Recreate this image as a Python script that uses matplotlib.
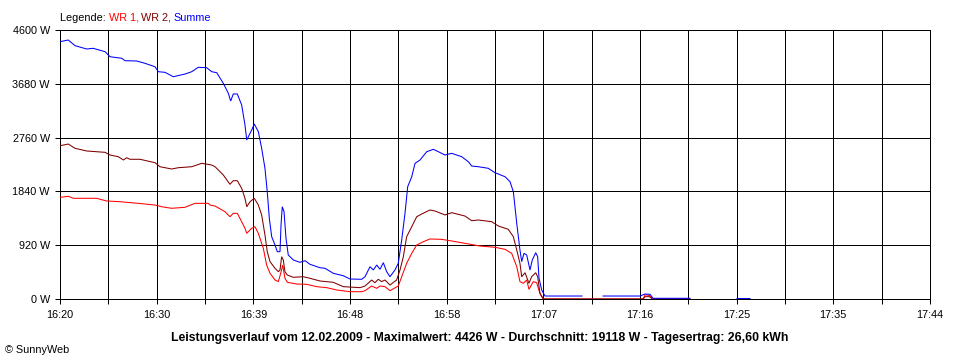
import numpy as np
import matplotlib
matplotlib.use("Agg")
import matplotlib.pyplot as plt

plt.rcParams['font.family'] = ["Liberation Sans", "DejaVu Sans"]

# ---- data: time in minutes after 16:20, power in W ----
t_sum = [0.0, 0.8, 1.45, 2.58, 3.2, 4.35, 4.83, 5.96, 6.28, 7.41, 8.21, 9.17, 9.49, 10.14,
         10.94, 12.07, 12.72, 13.35, 14.16, 14.65, 15.13, 15.77, 16.25, 16.48, 16.73, 17.12,
         17.54, 17.86, 18.03, 18.51, 18.76, 19.15, 19.47, 19.79, 20.01, 20.21, 20.44, 20.76,
         20.98, 21.24, 21.34, 21.46, 21.63, 21.82, 22.04, 22.53, 23.17, 23.66, 24.14, 25.10,
         25.59, 26.39, 27.35, 28.0, 29.13, 29.45, 29.93, 30.25, 30.58, 30.90, 31.22, 31.54,
         31.86, 32.34, 32.66, 32.99, 33.31, 33.57, 33.96, 34.28, 34.76, 35.41, 36.05, 36.53,
         37.17, 37.82, 38.79, 39.42, 39.75, 40.39, 41.35, 42.0, 42.97, 43.45, 43.77, 44.1,
         44.41, 44.58, 44.8, 45.06, 45.38, 45.6, 45.93, 46.12, 46.25, 46.51, 46.83, 47.63,
         50.4, 50.5, 52.33, 52.43, 56.0, 56.48, 56.97, 57.26, 60.83, 60.93, 65.27, 65.37, 66.62]
p_sum = [4400, 4429, 4332, 4275, 4287, 4229, 4143, 4116, 4075, 4070, 4030, 3972, 3887, 3876,
         3801, 3847, 3887, 3962, 3955, 3887, 3870, 3688, 3518, 3386, 3506, 3506,
         3318, 2976, 2719, 2890, 2993, 2861, 2577, 2235, 1835, 1380, 1065, 923,
         809, 809, 1265, 1578, 1493, 1038, 752, 667, 627, 655, 593, 535,
         525, 439, 398, 342, 337, 381, 552, 496, 581, 508, 621, 467,
         381, 496, 610, 1009, 1465, 1920, 2091, 2320, 2377, 2519, 2560, 2519,
         2462, 2491, 2433, 2348, 2274, 2262, 2235, 2160, 2091, 2006, 1835, 1294,
         838, 638, 781, 752, 496, 667, 792, 723, 354, 154, 51, 51,
         51, np.nan, np.nan, 51, 51, 85, 80, 12, 12, np.nan, np.nan, 8, 8]

t_wr2 = [0.0, 0.8, 1.45, 2.58, 4.35, 4.83, 5.63, 6.12, 6.44, 6.76, 7.73, 9.17, 9.65, 10.78,
         11.42, 12.72, 13.68, 14.65, 14.97, 15.77, 16.41, 16.73, 17.12, 17.54, 17.86, 18.03,
         18.35, 18.76, 19.15, 19.47, 19.79, 20.01, 20.28, 20.76, 21.08, 21.24, 21.4, 21.56,
         21.72, 21.95, 22.53, 23.49, 24.14, 25.1, 26.39, 27.35, 28.97, 29.45, 30.09, 30.41,
         30.73, 31.06, 31.38, 31.86, 32.5, 32.83, 33.15, 33.47, 33.96, 34.44, 34.92, 35.72,
         36.21, 37.17, 37.82, 39.1, 39.75, 40.39, 41.68, 42.32, 43.28, 43.77, 44.1, 44.41,
         44.58, 44.9, 45.28, 45.54, 45.93, 46.12, 46.34, 46.66, 56.3, 56.5, 56.9, 57.2, 60.8]
p_wr2 = [2621, 2650, 2577, 2531, 2508, 2462, 2433, 2377, 2416, 2389, 2389, 2331, 2262, 2223,
         2245, 2262, 2320, 2291, 2262, 2120, 1961, 2023, 2023, 1893, 1722, 1578,
         1664, 1722, 1607, 1437, 1094, 809, 638, 525, 467, 496, 723, 667,
         467, 410, 371, 381, 354, 308, 285, 211, 194, 222, 325, 279,
         337, 297, 325, 239, 325, 496, 723, 1065, 1236, 1407, 1453, 1522,
         1505, 1437, 1476, 1419, 1339, 1351, 1322, 1248, 1192, 1065, 838, 610,
         381, 450, 268, 381, 450, 381, 97, 0, 0, 40, 40, 0, 0]

t_wr1 = [0.0, 0.8, 1.29, 3.53, 4.49, 5.77, 7.53, 9.17, 9.81, 10.78, 12.07, 13.03, 14.32,
         14.48, 14.97, 15.93, 16.41, 16.73, 17.12, 17.54, 17.86, 18.03, 18.51, 18.83, 19.15,
         19.63, 19.95, 20.28, 20.76, 21.08, 21.31, 21.5, 21.72, 21.95, 22.85, 23.82, 24.78,
         25.75, 26.72, 28.0, 29.13, 29.45, 30.09, 30.58, 30.9, 31.38, 31.86, 32.66, 32.99,
         33.47, 33.96, 34.44, 35.08, 35.72, 36.85, 37.82, 39.1, 40.55, 42.0, 42.97, 43.61,
         44.1, 44.41, 44.74, 45.06, 45.28, 45.7, 46.02, 46.34, 46.66, 56.3, 56.5, 56.9, 57.3, 60.8]
p_wr1 = [1739, 1756, 1722, 1722, 1676, 1664, 1636, 1607, 1578, 1551, 1568, 1636, 1636,
         1607, 1590, 1493, 1407, 1465, 1465, 1322, 1209, 1123, 1209, 1236, 1123,
         867, 581, 439, 325, 297, 439, 581, 354, 285, 256, 251, 211,
         194, 154, 125, 125, 142, 222, 183, 222, 211, 142, 222, 381,
         610, 781, 923, 980, 1026, 1020, 992, 952, 906, 884, 849, 781,
         552, 297, 268, 325, 165, 297, 279, 97, 0, 0, 73, 60, 0, 0]

x_tick_labels = ["16:20", "16:30", "16:39", "16:48", "16:58", "17:07", "17:16", "17:25", "17:35", "17:44"]
y_ticks = [0, 920, 1840, 2760, 3680, 4600]
y_tick_labels = ["0 W", "920 W", "1840 W", "2760 W", "3680 W", "4600 W"]

series_names = ["WR 1", "WR 2", "Summe"]
series_colors = ["#FF0000", "#800000", "#0000FF"]

caption = ("Leistungsverlauf vom 12.02.2009 - Maximalwert: 4426 W - Durchschnitt: 19118 W"
           " - Tagesertrag: 26,60 kWh")

# ---- figure ----
W, H = 960, 360
fig = plt.figure(figsize=(W / 100, H / 100), dpi=100)
fig.patch.set_facecolor("white")
ax = fig.add_axes([60 / W, 61 / H, 870 / W, 269 / H])

PX = 0.72  # one pixel in points
for t, p, c in [(t_wr1, p_wr1, series_colors[0]), (t_wr2, p_wr2, series_colors[1]),
                (t_sum, p_sum, series_colors[2])]:
    ax.plot(t, p, color=c, lw=0.75, antialiased=True, solid_joinstyle="miter", zorder=3)

ax.set_xlim(0, 84)
ax.set_ylim(0, 4600)
major = np.linspace(0, 84, 10)
minor = (major[:-1] + major[1:]) / 2
ax.set_xticks(major)
ax.set_xticks(minor, minor=True)
ax.set_xticklabels(x_tick_labels, fontsize=7.8)
ax.set_yticks(y_ticks)
ax.set_yticklabels(y_tick_labels, fontsize=7.8)
ax.grid(True, which="both", axis="x", color="black", lw=PX, antialiased=False, zorder=1)
ax.grid(True, which="major", axis="y", color="black", lw=PX, antialiased=False, zorder=1)
ax.tick_params(axis="both", which="both", direction="out", length=3.6, width=PX, color="black")
ax.tick_params(axis="x", which="major", pad=4)
ax.tick_params(axis="y", pad=3.6)
for s in ax.spines.values():
    s.set_color("black")
    s.set_linewidth(PX)
    s.set_antialiased(False)
ax.set_axisbelow(True)

# legend text, coloured word by word
renderer = fig.canvas.get_renderer()
parts = [("Legende: ", "black")]
for i, (n, c) in enumerate(zip(series_names, series_colors)):
    parts.append((n + ("," if i < len(series_names) - 1 else ""), c))
    if i < len(series_names) - 1:
        parts.append((" ", "black"))
x_px = 60
y_fig = (H - 20.7) / H
for txt, col in parts:
    tt = fig.text(x_px / W, y_fig, txt, color=col, fontsize=7.8, va="baseline", ha="left")
    bb = tt.get_window_extent(renderer)
    x_px = bb.x1 if txt.strip() else x_px + 2.2

fig.text(0.5, 19 / H, caption, fontsize=8.8, fontweight="bold", ha="center", va="baseline")
fig.text(5 / W, 7.3 / H, "\u00a9 SunnyWeb", fontsize=7.8, ha="left", va="baseline")

fig.savefig("out.png", dpi=100)
